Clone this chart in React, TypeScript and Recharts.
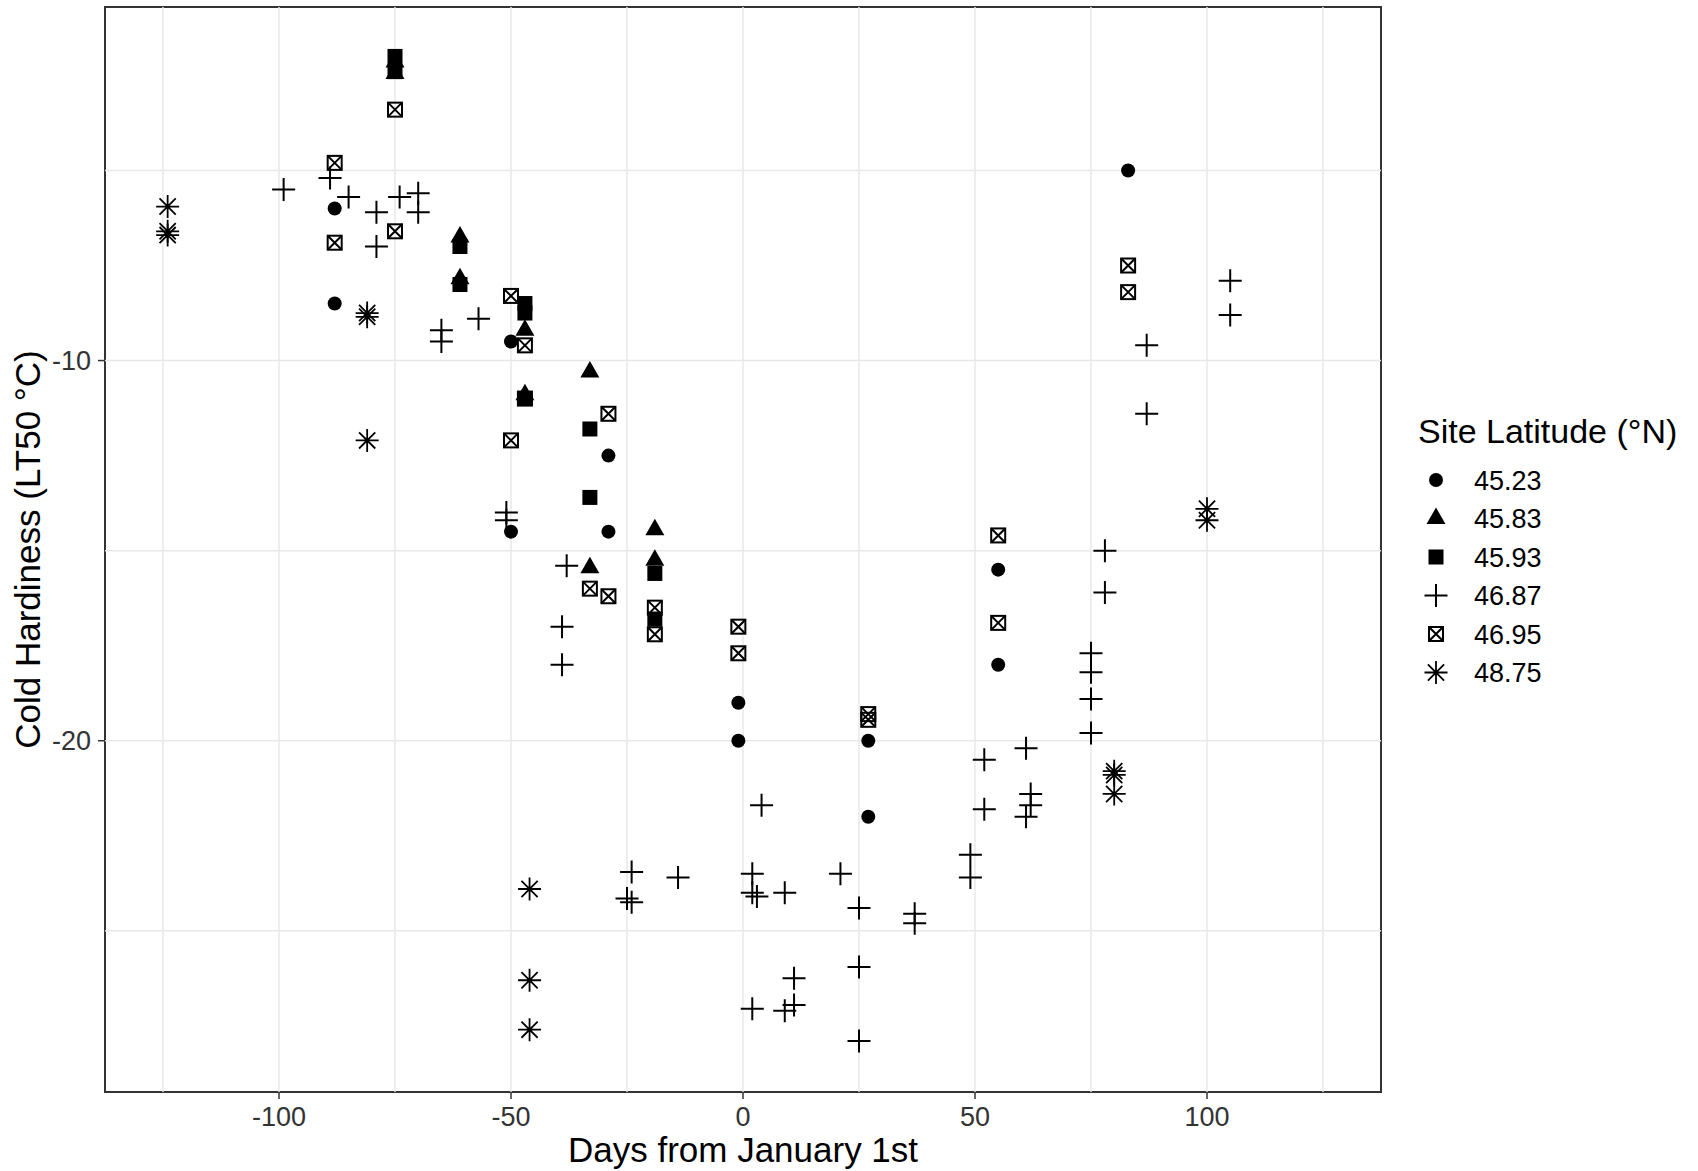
import React from 'react'
import {
  ScatterChart,
  Scatter,
  XAxis,
  YAxis,
  ReferenceLine,
  ReferenceArea,
} from 'recharts'

// LT50 readings per site, as [day from Jan 1st, LT50 °C]
const site4523: [number, number][] = [
  [-88, -6.0], [-88, -8.5], [-50, -9.5], [-50, -14.5], [-29, -12.5], [-29, -14.5],
  [-1, -19.0], [-1, -20.0], [27, -20.0], [27, -22.0], [55, -15.5], [55, -18.0],
  [83, -5.0],
]
const site4583: [number, number][] = [
  [-75, -2.15], [-75, -2.45], [-61, -6.75], [-61, -7.85], [-47, -9.2], [-47, -10.9],
  [-33, -10.3], [-33, -15.45], [-19, -14.45], [-19, -15.25],
]
const site4593: [number, number][] = [
  [-75, -2.0], [-75, -2.4], [-61, -7.0], [-61, -8.0], [-47, -8.5], [-47, -8.75],
  [-47, -11.0], [-33, -11.8], [-33, -13.6], [-19, -15.6], [-19, -16.8],
]
const site4687: [number, number][] = [
  [-99, -5.5], [-89, -5.2], [-85, -5.7], [-79, -6.1], [-79, -7.0], [-74, -5.7],
  [-70, -5.6], [-70, -6.1], [-65, -9.2], [-65, -9.5], [-57, -8.9], [-51, -14.0],
  [-51, -14.2], [-38, -15.4], [-39, -17.0], [-39, -18.0], [-25, -24.15], [-24, -23.45],
  [-24, -24.25], [-14, -23.6], [2, -23.5], [2, -24.0], [3, -24.1], [4, -21.7],
  [9, -24.0], [2, -27.05], [9, -27.1], [11, -26.25], [11, -26.95], [21, -23.5],
  [25, -24.4], [25, -25.95], [25, -27.9], [37, -24.55], [37, -24.8], [49, -23.0],
  [49, -23.6], [52, -20.5], [52, -21.8], [61, -20.2], [62, -21.4], [62, -21.7],
  [61, -22.0], [75, -17.7], [75, -18.2], [75, -18.9], [75, -19.8], [78, -15.0],
  [78, -16.1], [87, -9.6], [87, -11.4], [105, -7.9], [105, -8.8],
]
const site4695: [number, number][] = [
  [-88, -4.8], [-88, -6.9], [-75, -3.4], [-75, -6.6], [-50, -8.3], [-47, -9.6],
  [-47, -11.0], [-50, -12.1], [-29, -11.4], [-33, -16.0], [-29, -16.2], [-19, -16.5],
  [-19, -17.2], [-1, -17.0], [-1, -17.7], [27, -19.3], [27, -19.45], [55, -14.6],
  [55, -16.9], [83, -7.5], [83, -8.2],
]
const site4875: [number, number][] = [
  [-124, -5.95], [-124, -6.6], [-124, -6.7], [-81, -8.75], [-81, -8.85], [-81, -12.1],
  [-46, -23.9], [-46, -26.3], [-46, -27.6], [80, -20.8], [80, -20.9], [80, -21.4],
  [100, -13.9], [100, -14.2],
]

const LATITUDES = ['45.23', '45.83', '45.93', '46.87', '46.95', '48.75']
const X_TICKS = [-100, -50, 0, 50, 100]
const X_GRID = [-125, -100, -75, -50, -25, 0, 25, 50, 75, 100, 125]
const Y_TICKS = [-20, -10]
const Y_GRID = [-25, -20, -15, -10, -5]
const X_DOMAIN: [number, number] = [-137.5, 137.5]
const Y_DOMAIN: [number, number] = [-29.24, -0.7]

type Kind = 'circle' | 'triangle' | 'square' | 'plus' | 'boxcross' | 'asterisk'

const SERIES: { name: string; kind: Kind; rows: [number, number][] }[] = [
  { name: LATITUDES[0], kind: 'circle', rows: site4523 },
  { name: LATITUDES[1], kind: 'triangle', rows: site4583 },
  { name: LATITUDES[2], kind: 'square', rows: site4593 },
  { name: LATITUDES[3], kind: 'plus', rows: site4687 },
  { name: LATITUDES[4], kind: 'boxcross', rows: site4695 },
  { name: LATITUDES[5], kind: 'asterisk', rows: site4875 },
]

const FONT = '"Liberation Sans", Arial, Helvetica, sans-serif'
const INK = '#000'

// R-style point symbols (pch 16, 17, 15, 3, 7, 8)
function Marker({ kind, cx, cy }: { kind: Kind; cx: number; cy: number }) {
  switch (kind) {
    case 'circle':
      return <circle cx={cx} cy={cy} r={7} fill={INK} />
    case 'triangle':
      return (
        <polygon
          points={`${cx},${cy - 11} ${cx + 9.5},${cy + 5.5} ${cx - 9.5},${cy + 5.5}`}
          fill={INK}
        />
      )
    case 'square':
      return <rect x={cx - 7.5} y={cy - 7.5} width={15} height={15} fill={INK} />
    case 'plus':
      return (
        <path
          d={`M${cx - 11.5},${cy}H${cx + 11.5}M${cx},${cy - 11.5}V${cy + 11.5}`}
          stroke={INK}
          strokeWidth={2}
          fill="none"
        />
      )
    case 'boxcross': {
      const h = 7
      return (
        <g stroke={INK} strokeWidth={2} fill="none">
          <rect x={cx - h} y={cy - h} width={2 * h} height={2 * h} />
          <path d={`M${cx - h},${cy - h}L${cx + h},${cy + h}M${cx - h},${cy + h}L${cx + h},${cy - h}`} />
        </g>
      )
    }
    case 'asterisk': {
      const a = 11.5
      const d = 8.1
      return (
        <path
          d={`M${cx - a},${cy}H${cx + a}M${cx},${cy - a}V${cy + a}M${cx - d},${cy - d}L${cx + d},${cy + d}M${cx - d},${cy + d}L${cx + d},${cy - d}`}
          stroke={INK}
          strokeWidth={1.8}
          fill="none"
        />
      )
    }
  }
}

function XTitle(props: any) {
  const vb = props.viewBox
  return (
    <text
      x={vb.x + vb.width / 2}
      y={vb.y + vb.height - 9}
      textAnchor="middle"
      fontSize={35}
      fill={INK}
    >
      Days from January 1st
    </text>
  )
}

function YTitle(props: any) {
  const vb = props.viewBox
  const x = vb.x + 40
  const y = vb.y + vb.height / 2
  return (
    <text
      x={x}
      y={y}
      transform={`rotate(-90, ${x}, ${y})`}
      textAnchor="middle"
      fontSize={35}
      fill={INK}
    >
      Cold Hardiness (LT50 °C)
    </text>
  )
}

function SiteLegend() {
  return (
    <svg
      width={318}
      height={300}
      style={{ position: 'absolute', left: 1380, top: 400, fontFamily: FONT }}
    >
      <text x={38} y={43} fontSize={34} fill={INK}>
        Site Latitude (°N)
      </text>
      {SERIES.map((s, i) => {
        const cy = 80 + i * 38.5
        return (
          <g key={s.name}>
            <Marker kind={s.kind} cx={56} cy={cy} />
            <text x={94} y={cy} dy="0.355em" fontSize={27} fill={INK}>
              {s.name}
            </text>
          </g>
        )
      })}
    </svg>
  )
}

export default function App() {
  const tickStyle = { fontSize: 27, fill: '#333', fontFamily: FONT }
  return (
    <div
      style={{
        position: 'absolute',
        left: 0,
        top: 0,
        width: 1698,
        height: 1171,
        background: '#fff',
        fontFamily: FONT,
      }}
    >
      <ScatterChart
        width={1698}
        height={1171}
        margin={{ top: 7, right: 317, bottom: 0, left: 0 }}
      >
        <XAxis
          type="number"
          dataKey="day"
          domain={X_DOMAIN}
          ticks={X_TICKS}
          allowDataOverflow
          height={79}
          axisLine={false}
          tickLine={{ stroke: '#333', strokeWidth: 1.5 }}
          tickSize={7}
          tickMargin={8}
          tick={tickStyle}
          label={{ content: XTitle }}
        />
        <YAxis
          type="number"
          dataKey="lt50"
          domain={Y_DOMAIN}
          ticks={Y_TICKS}
          allowDataOverflow
          width={105}
          axisLine={false}
          tickLine={{ stroke: '#333', strokeWidth: 1.5 }}
          tickSize={7}
          tickMargin={7}
          tick={tickStyle}
          label={{ content: YTitle }}
        />
        {X_GRID.map((v) => (
          <ReferenceLine key={`gx${v}`} x={v} stroke="#e8e8e8" strokeWidth={1.5} />
        ))}
        {Y_GRID.map((v) => (
          <ReferenceLine key={`gy${v}`} y={v} stroke="#e8e8e8" strokeWidth={1.5} />
        ))}
        {SERIES.map((s) => (
          <Scatter
            key={s.name}
            name={s.name}
            data={s.rows.map(([day, lt50]) => ({ day, lt50 }))}
            isAnimationActive={false}
            shape={(p: any) => <Marker kind={s.kind} cx={p.cx} cy={p.cy} />}
          />
        ))}
        <ReferenceArea
          x1={X_DOMAIN[0]}
          x2={X_DOMAIN[1]}
          y1={Y_DOMAIN[0]}
          y2={Y_DOMAIN[1]}
          fill="none"
          stroke="#333"
          strokeWidth={2}
        />
      </ScatterChart>
      <SiteLegend />
    </div>
  )
}
